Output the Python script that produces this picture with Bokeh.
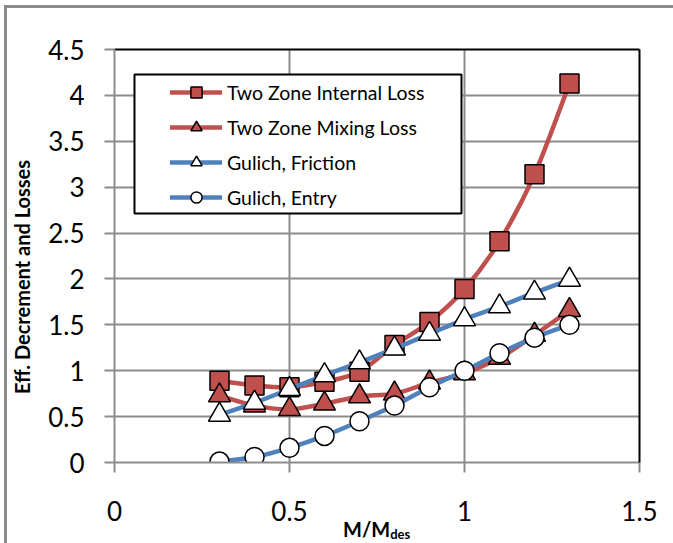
import numpy as np
from bokeh.plotting import figure
from bokeh.layouts import column, row
from bokeh.models import (FixedTicker, LinearAxis, Legend, LegendItem,
                          BoxAnnotation, ColumnDataSource, Range1d, Div)
from bokeh.embed import file_html
from bokeh.resources import INLINE

# ---------------- data ----------------
m_ratio = [0.3, 0.4, 0.5, 0.6, 0.7, 0.8, 0.9, 1.0, 1.1, 1.2, 1.3]
two_zone_internal = [0.89, 0.84, 0.82, 0.88, 0.99, 1.28, 1.53, 1.89, 2.41, 3.14, 4.13]
two_zone_mixing = [0.73, 0.62, 0.58, 0.64, 0.72, 0.75, 0.87, 0.97, 1.14, 1.39, 1.66]
gulich_friction = [0.52, 0.65, 0.80, 0.95, 1.09, 1.24, 1.40, 1.56, 1.70, 1.85, 1.99]
gulich_entry = [0.01, 0.06, 0.16, 0.29, 0.45, 0.62, 0.82, 1.00, 1.19, 1.36, 1.50]

series_names = ["Two Zone Internal Loss", "Two Zone Mixing Loss",
                "Gulich, Friction", "Gulich, Entry"]

x_ticks = [0, 0.5, 1, 1.5]
x_tick_labels = ["0", "0.5", "1", "1.5"]
y_ticks = [0, 0.5, 1, 1.5, 2, 2.5, 3, 3.5, 4, 4.5]
y_tick_labels = ["0", "0.5", "1", "1.5", "2", "2.5", "3", "3.5", "4", "4.5"]

y_title = "Eff. Decrement and Losses"
x_title_main = "M/M"
x_title_sub = "des"

RED = "#C0504D"
BLUE = "#4F81BD"
GRID = "#8c8c8c"
FONT = "Lato"


def smooth_source(xs, ys):
    """Bezier control points (Excel-like smoothed line) through the data points."""
    x = np.asarray(xs, float)
    y = np.asarray(ys, float)
    n = len(x)
    xp = np.concatenate([[x[0]], x, [x[-1]]])
    yp = np.concatenate([[y[0]], y, [y[-1]]])
    cx0 = x[:-1] + (xp[2:n + 1] - xp[0:n - 1]) / 6.0
    cy0 = y[:-1] + (yp[2:n + 1] - yp[0:n - 1]) / 6.0
    cx1 = x[1:] - (xp[3:n + 2] - xp[1:n]) / 6.0
    cy1 = y[1:] - (yp[3:n + 2] - yp[1:n]) / 6.0
    return ColumnDataSource(dict(x0=x[:-1], y0=y[:-1], x1=x[1:], y1=y[1:],
                                 cx0=cx0, cy0=cy0, cx1=cx1, cy1=cy1))


p = figure(width=636, height=528, output_backend="svg", toolbar_location=None,
           x_range=Range1d(0, 1.5), y_range=Range1d(0, 4.5),
           min_border_left=77, min_border_right=34, min_border_top=41,
           min_border_bottom=74, background_fill_color="white",
           border_fill_color="white", outline_line_color=None)

# axes
for ax in (p.xaxis[0], p.yaxis[0]):
    ax.axis_line_color = GRID
    ax.axis_line_width = 2
    ax.major_tick_line_color = GRID
    ax.major_tick_line_width = 2
    ax.major_tick_out = 10
    ax.major_tick_in = 0
    ax.minor_tick_line_color = None
    ax.major_label_text_font = FONT
    ax.major_label_text_font_size = "26px"
    ax.major_label_text_color = "black"

p.xaxis.ticker = FixedTicker(ticks=x_ticks)
p.xaxis.major_label_overrides = {t: l for t, l in zip(x_ticks, x_tick_labels)}
p.xaxis.major_label_standoff = 28
p.yaxis.ticker = FixedTicker(ticks=y_ticks)
p.yaxis.major_label_overrides = {t: l for t, l in zip(y_ticks, y_tick_labels)}
p.yaxis.major_label_standoff = 20

# black top/right frame edges
for side in ("above", "right"):
    ax = LinearAxis(ticker=FixedTicker(ticks=[]), axis_line_color="black",
                    axis_line_width=2, major_tick_line_color=None,
                    minor_tick_line_color=None, major_label_text_font_size="0px")
    p.add_layout(ax, side)

p.xgrid.ticker = FixedTicker(ticks=x_ticks)
p.ygrid.ticker = FixedTicker(ticks=y_ticks)
for g in (p.xgrid[0], p.ygrid[0]):
    g.grid_line_color = GRID
    g.grid_line_width = 2

# series
specs = [
    (two_zone_internal, RED, "square", RED, 19),
    (two_zone_mixing, RED, "triangle", RED, 22),
    (gulich_friction, BLUE, "triangle", "white", 22),
    (gulich_entry, BLUE, "circle", "white", 19),
]
items = []
for name, (vals, lc, marker, fc, size) in zip(series_names, specs):
    src = smooth_source(m_ratio, vals)
    bz = p.bezier(x0="x0", y0="y0", x1="x1", y1="y1", cx0="cx0", cy0="cy0",
                  cx1="cx1", cy1="cy1", source=src, line_color=lc,
                  line_width=4.5, line_cap="round")
    sc = p.scatter(m_ratio, vals, marker=marker, size=size, fill_color=fc,
                   line_color="black", line_width=1.5)
    items.append(LegendItem(label=name, renderers=[bz, sc]))

# legend frame
p.add_layout(BoxAnnotation(left=0.0571, right=0.9914, top=4.228, bottom=2.712,
                           fill_color="white", fill_alpha=1.0,
                           line_color="black", line_alpha=1.0, line_width=2))

legend = Legend(items=items, location=(56, 251), padding=0, spacing=7,
                glyph_width=52, glyph_height=28, label_height=28,
                label_standoff=5, border_line_color=None,
                background_fill_alpha=0, label_text_font=FONT,
                label_text_font_size="19.5px", label_text_color="black")
p.add_layout(legend, "center")

# x axis title with subscript
xlabel = Div(
    text=(f'<div style="margin-left:306px; font-family:{FONT}; font-weight:bold; '
          f'font-size:20px; line-height:15px; color:black; white-space:nowrap;">'
          f'{x_title_main}<span style="font-size:13px; position:relative; top:2px;">'
          f'{x_title_sub}</span></div>'),
    width=636, height=21, margin=(-14, 0, 0, 0))

# y axis title (rotated)
ylabel = Div(
    text=(f'<div style="position:relative; width:30px; height:535px;">'
          f'<div style="position:absolute; left:15px; top:269px; '
          f'transform:translate(-50%,-50%) rotate(-90deg); white-space:nowrap; '
          f'font-family:{FONT}; font-weight:bold; font-size:20px; color:black;">'
          f'{y_title}</div></div>'),
    width=30, height=535, margin=(0, 0, 0, 0))

root = row(ylabel, column(p, xlabel, spacing=0), spacing=0,
           margin=(5, 0, 0, 4),
           styles={"border-left": "3px solid #8c8c8c",
                   "border-top": "3px solid #8c8c8c"})

open("out.html", "w").write(file_html(root, INLINE))
